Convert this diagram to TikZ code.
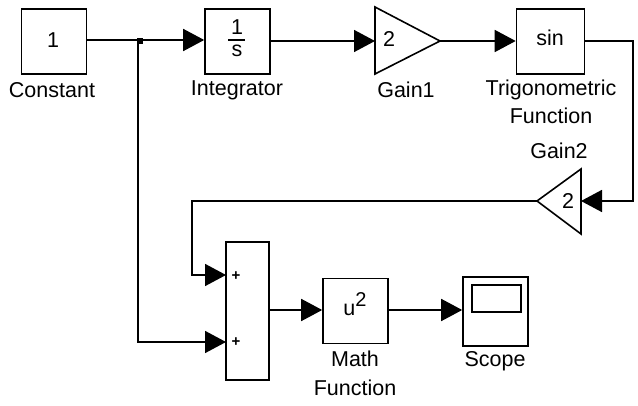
\documentclass[tikz,border=0pt]{standalone}
\usepackage{fontspec}
\setmainfont{Liberation Sans}
\usetikzlibrary{arrows.meta}
\begin{document}
\begin{tikzpicture}[x=1pt,y=-1pt,
  line width=1.6pt,
  every node/.style={font=\fontsize{21.5}{25}\selectfont},
  blk/.style={draw,rectangle,inner sep=0pt,minimum width=65pt,minimum height=65pt},
  lbl/.style={inner sep=0pt,anchor=center},
  plus/.style={inner sep=0pt,anchor=center,font=\fontsize{15}{15}\selectfont\bfseries},
  sig/.style={-{Triangle[length=21pt,width=22pt]}}]
\useasboundingbox (0,0) rectangle (638,406);
% blocks
\node[blk] (const) at (54,41.5) {};
\node[lbl] (constval) at (53,40) {1};
\node[lbl] (constlbl) at (52,90) {Constant};
\node[blk] (int) at (237.5,41.5) {};
\node[lbl] (intnum) at (237,27) {1};
\node[lbl] (intden) at (237,51) {s};
\coordinate (barL) at (228,40);
\coordinate (barR) at (245,40);
\draw[line width=1.2pt] (barL) -- (barR);
\node[lbl] (intlbl) at (237,90) {Integrator};
% Gain1 triangle
\coordinate (g1a) at (375,7);
\coordinate (g1in) at (375,41);
\coordinate (g1out) at (440,41);
\coordinate (g1b) at (375,74);
\draw[line join=miter] (g1a) -- (g1out) -- (g1b) -- cycle;
\node[lbl] (g1val) at (389,39) {2};
\node[lbl] (g1lbl) at (406,90) {Gain1};
\node[blk,minimum width=68pt] (trig) at (550.5,41.5) {};
\node[lbl] (trigval) at (550,38) {sin};
\node[lbl] (triglbl1) at (551,90) {Trigonometric};
\node[lbl] (triglbl2) at (551,116) {Function};
% Gain2 triangle
\coordinate (g2a) at (581,169);
\coordinate (g2in) at (581,201);
\coordinate (g2out) at (537,201);
\coordinate (g2b) at (581,234);
\draw[line join=miter] (g2a) -- (g2out) -- (g2b) -- cycle;
\node[lbl] (g2val) at (568,201) {2};
\node[lbl] (g2lbl) at (559,151) {Gain2};
% Sum
\node[draw,rectangle,inner sep=0pt,minimum width=43pt,minimum height=138pt] (sum) at (247.5,311) {};
\node[plus] (p1) at (236,276) {+};
\node[plus] (p2) at (236,342) {+};
\coordinate (sin1) at (226,275);
\coordinate (sin2) at (226,342);
% Math function
\node[blk] (math) at (355.5,311) {};
\node[lbl] (mathval) at (355,304) {u\raisebox{9pt}{\fontsize{20}{20}\selectfont 2}};
\node[lbl] (mathlbl1) at (355,359) {Math};
\node[lbl] (mathlbl2) at (355,388) {Function};
% Scope
\node[blk,minimum height=69pt] (scope) at (495.5,311.5) {};
\coordinate (scA) at (472,285);
\coordinate (scB) at (521,312);
\draw (scA) rectangle (scB);
\node[lbl] (scopelbl) at (495,361) {Scope};
% connectors
\coordinate (br) at (138,40);
\coordinate (brdown) at (138,342);
\draw[sig] (const.east |- br) -- (int.west |- br);
\fill (137,38.5) rectangle (143,44);
\draw[sig] (br) -- (brdown) -- (sin2);
\draw[sig] (int.east |- g1in) -- (g1in);
\draw[sig] (g1out) -- (trig.west |- g1out);
\coordinate (c1) at (633,41);
\coordinate (c2) at (633,201);
\draw[sig] (trig.east |- c1) -- (c1) -- (c2) -- (g2in);
\coordinate (c3) at (192,201);
\coordinate (c4) at (192,275);
\draw[sig] (g2out) -- (c3) -- (c4) -- (sin1);
\coordinate (sout) at (269,310);
\draw[sig] (sout) -- (math.west |- sout);
\draw[sig] (math.east |- sout) -- (scope.west |- sout);
\end{tikzpicture}
\end{document}
